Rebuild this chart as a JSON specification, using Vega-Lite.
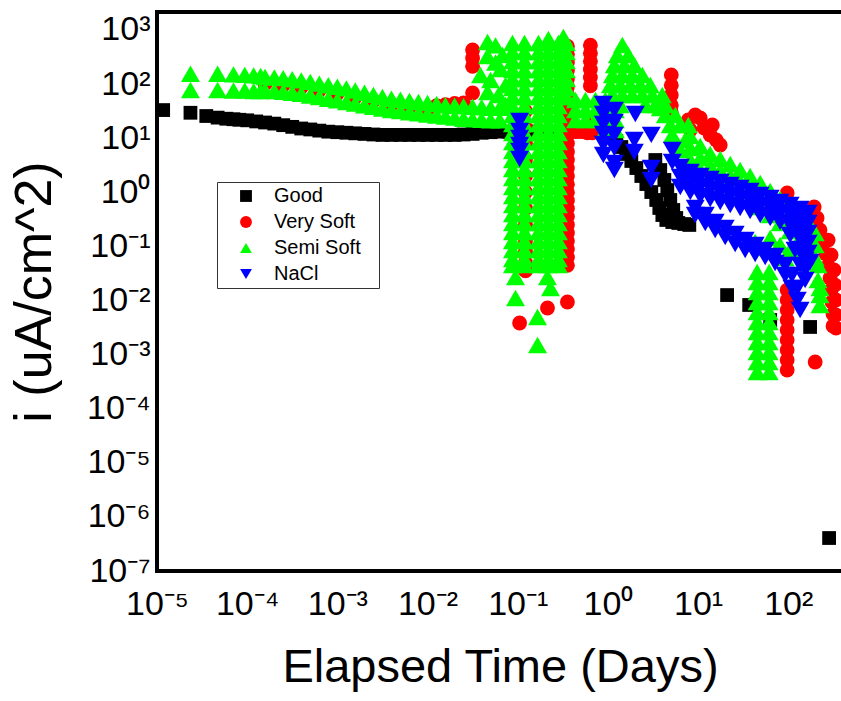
{
"$schema":"https://vega.github.io/schema/vega-lite/v6.json",
"width":686,"height":559,
"autosize":{"type":"none"},
"padding":{"left":157,"top":12,"right":0,"bottom":130},
"background":"white",
"config":{
 "view":{"stroke":"black","strokeWidth":4},
 "axis":{"domain":false,"grid":false,"tickColor":"black","labelColor":"black","titleColor":"black","labelFont":"Liberation Sans","titleFont":"Liberation Sans","labelFontSize":34,"titleFontWeight":"normal","labelOverlap":false,"labelFlush":false,"labelBound":false,"tickSize":0}
},
"data":{"values":[
{"sample":"Good","days":1.17e-5,"i":33.1},{"sample":"Good","days":2.35e-5,"i":29.5},{"sample":"Good","days":3.52e-5,"i":25.7},{"sample":"Good","days":4.7e-5,"i":24.0},{"sample":"Good","days":5.87e-5,"i":22.9},{"sample":"Good","days":7.04e-5,"i":22.4},{"sample":"Good","days":8.2e-5,"i":21.9},{"sample":"Good","days":1e-4,"i":21.4},{"sample":"Good","days":1.26e-4,"i":20.4},{"sample":"Good","days":1.58e-4,"i":19.5},{"sample":"Good","days":2e-4,"i":18.6},{"sample":"Good","days":2.51e-4,"i":17.4},{"sample":"Good","days":3.16e-4,"i":16.2},{"sample":"Good","days":3.98e-4,"i":15.1},{"sample":"Good","days":5.01e-4,"i":14.5},{"sample":"Good","days":6.31e-4,"i":13.8},{"sample":"Good","days":7.94e-4,"i":13.2},{"sample":"Good","days":1e-3,"i":12.9},{"sample":"Good","days":1.26e-3,"i":12.6},{"sample":"Good","days":1.58e-3,"i":12.3},{"sample":"Good","days":2e-3,"i":12.0},{"sample":"Good","days":2.51e-3,"i":11.7},{"sample":"Good","days":3.16e-3,"i":11.5},{"sample":"Good","days":3.98e-3,"i":11.5},{"sample":"Good","days":5.01e-3,"i":11.5},{"sample":"Good","days":6.31e-3,"i":11.5},{"sample":"Good","days":7.94e-3,"i":11.5},{"sample":"Good","days":0.01,"i":11.5},{"sample":"Good","days":0.0126,"i":11.5},{"sample":"Good","days":0.0158,"i":11.5},{"sample":"Good","days":0.02,"i":11.5},{"sample":"Good","days":0.0251,"i":11.7},{"sample":"Good","days":0.0316,"i":12.0},{"sample":"Good","days":0.0398,"i":12.6},{"sample":"Good","days":0.0501,"i":12.9},{"sample":"Good","days":0.0631,"i":13.2},{"sample":"Good","days":0.0794,"i":13.2},{"sample":"Good","days":0.1,"i":13.2},{"sample":"Good","days":0.126,"i":13.2},{"sample":"Good","days":0.158,"i":13.2},{"sample":"Good","days":0.2,"i":13.2},{"sample":"Good","days":0.251,"i":13.2},{"sample":"Good","days":0.316,"i":13.2},{"sample":"Good","days":0.38,"i":13.2},{"sample":"Good","days":1.07,"i":10.5},{"sample":"Good","days":1.24,"i":8.87},{"sample":"Good","days":1.41,"i":6.87},{"sample":"Good","days":1.6,"i":5.11},{"sample":"Good","days":1.82,"i":3.79},{"sample":"Good","days":2.07,"i":2.81},{"sample":"Good","days":2.35,"i":2.0},{"sample":"Good","days":2.67,"i":1.42},{"sample":"Good","days":3.03,"i":1.01},{"sample":"Good","days":3.44,"i":0.721},{"sample":"Good","days":3.72,"i":0.513},{"sample":"Good","days":4.02,"i":0.38},{"sample":"Good","days":4.45,"i":0.308},{"sample":"Good","days":5.18,"i":0.282},{"sample":"Good","days":6.04,"i":0.271},{"sample":"Good","days":7.03,"i":0.259},{"sample":"Good","days":8.0,"i":0.249},{"sample":"Good","days":3.36,"i":3.95},{"sample":"Good","days":3.81,"i":2.58},{"sample":"Good","days":4.23,"i":1.69},{"sample":"Good","days":4.56,"i":1.1},{"sample":"Good","days":4.92,"i":0.721},{"sample":"Good","days":5.31,"i":0.471},{"sample":"Good","days":5.73,"i":0.335},{"sample":"Good","days":21.0,"i":0.0126},{"sample":"Good","days":36.9,"i":0.00826},{"sample":"Good","days":63.1,"i":0.00436},{"sample":"Good","days":175,"i":0.00324},{"sample":"Good","days":284,"i":4.07e-7},
{"sample":"Very Soft","days":1.58e-4,"i":101},{"sample":"Very Soft","days":2.51e-4,"i":96.6},{"sample":"Very Soft","days":3.98e-4,"i":88.1},{"sample":"Very Soft","days":6.31e-4,"i":76.7},{"sample":"Very Soft","days":1e-3,"i":66.8},{"sample":"Very Soft","days":1.58e-3,"i":57.5},{"sample":"Very Soft","days":2.51e-3,"i":49.0},{"sample":"Very Soft","days":3.98e-3,"i":42.2},{"sample":"Very Soft","days":6.31e-3,"i":38.5},{"sample":"Very Soft","days":0.01,"i":35.1},{"sample":"Very Soft","days":0.0126,"i":39.8},{"sample":"Very Soft","days":0.0158,"i":41.7},{"sample":"Very Soft","days":0.02,"i":43.7},{"sample":"Very Soft","days":0.0251,"i":44.7},
{"sample":"Very Soft","days":0.0316,"i":68.4},{"sample":"Very Soft","days":0.0316,"i":214},{"sample":"Very Soft","days":0.0316,"i":302},{"sample":"Very Soft","days":0.0316,"i":427},
{"sample":"Very Soft","days":0.356,"i":501},{"sample":"Very Soft","days":0.356,"i":355},{"sample":"Very Soft","days":0.356,"i":251},{"sample":"Very Soft","days":0.356,"i":178},{"sample":"Very Soft","days":0.356,"i":126},{"sample":"Very Soft","days":0.356,"i":89.1},{"sample":"Very Soft","days":0.356,"i":63.1},{"sample":"Very Soft","days":0.356,"i":44.7},{"sample":"Very Soft","days":0.356,"i":31.6},{"sample":"Very Soft","days":0.356,"i":22.4},{"sample":"Very Soft","days":0.356,"i":15.8},{"sample":"Very Soft","days":0.356,"i":11.2},{"sample":"Very Soft","days":0.356,"i":7.94},{"sample":"Very Soft","days":0.356,"i":5.62},{"sample":"Very Soft","days":0.356,"i":3.98},{"sample":"Very Soft","days":0.356,"i":2.82},{"sample":"Very Soft","days":0.356,"i":2.0},{"sample":"Very Soft","days":0.356,"i":1.41},{"sample":"Very Soft","days":0.356,"i":1.0},{"sample":"Very Soft","days":0.356,"i":0.708},{"sample":"Very Soft","days":0.356,"i":0.501},{"sample":"Very Soft","days":0.356,"i":0.355},{"sample":"Very Soft","days":0.356,"i":0.251},{"sample":"Very Soft","days":0.356,"i":0.178},{"sample":"Very Soft","days":0.356,"i":0.126},{"sample":"Very Soft","days":0.356,"i":0.0891},{"sample":"Very Soft","days":0.356,"i":0.0631},{"sample":"Very Soft","days":0.356,"i":0.0447},
{"sample":"Very Soft","days":0.64,"i":525},{"sample":"Very Soft","days":0.64,"i":372},{"sample":"Very Soft","days":0.64,"i":263},{"sample":"Very Soft","days":0.64,"i":186},{"sample":"Very Soft","days":0.64,"i":132},{"sample":"Very Soft","days":0.64,"i":93.3},{"sample":"Very Soft","days":0.45,"i":13.2},{"sample":"Very Soft","days":0.52,"i":13.2},{"sample":"Very Soft","days":0.593,"i":17.8},{"sample":"Very Soft","days":0.593,"i":12.6},{"sample":"Very Soft","days":0.67,"i":12.6},
{"sample":"Very Soft","days":0.122,"i":31.6},{"sample":"Very Soft","days":0.122,"i":15.8},{"sample":"Very Soft","days":0.122,"i":7.94},{"sample":"Very Soft","days":0.122,"i":3.98},{"sample":"Very Soft","days":0.122,"i":2.0},{"sample":"Very Soft","days":0.122,"i":1.0},{"sample":"Very Soft","days":0.122,"i":0.501},{"sample":"Very Soft","days":0.122,"i":0.251},{"sample":"Very Soft","days":0.122,"i":0.126},{"sample":"Very Soft","days":0.122,"i":0.0794},{"sample":"Very Soft","days":0.122,"i":0.0501},{"sample":"Very Soft","days":0.122,"i":0.0355},
{"sample":"Very Soft","days":0.105,"i":0.00384},{"sample":"Very Soft","days":0.214,"i":0.00727},{"sample":"Very Soft","days":0.356,"i":0.00938},
{"sample":"Very Soft","days":5.05,"i":148},{"sample":"Very Soft","days":5.05,"i":95.5},{"sample":"Very Soft","days":5.05,"i":63.1},{"sample":"Very Soft","days":5.05,"i":40.7},{"sample":"Very Soft","days":5.05,"i":30.2},
{"sample":"Very Soft","days":7.8,"i":21.7},{"sample":"Very Soft","days":8.2,"i":14.2},{"sample":"Very Soft","days":9.31,"i":26.9},{"sample":"Very Soft","days":10.57,"i":23.6},{"sample":"Very Soft","days":11.7,"i":15.4},{"sample":"Very Soft","days":14.4,"i":17.5},{"sample":"Very Soft","days":13.65,"i":11.5},{"sample":"Very Soft","days":15.9,"i":9.27},{"sample":"Very Soft","days":17.62,"i":7.48},
{"sample":"Very Soft","days":97.3,"i":0.97},
{"sample":"Very Soft","days":194,"i":0.535},{"sample":"Very Soft","days":209,"i":0.335},{"sample":"Very Soft","days":225,"i":0.201},{"sample":"Very Soft","days":243,"i":0.121},{"sample":"Very Soft","days":263,"i":0.0723},{"sample":"Very Soft","days":277,"i":0.0434},{"sample":"Very Soft","days":291,"i":0.0261},{"sample":"Very Soft","days":299,"i":0.0156},{"sample":"Very Soft","days":306,"i":0.00938},{"sample":"Very Soft","days":314,"i":0.00562},{"sample":"Very Soft","days":314,"i":0.00338},
{"sample":"Very Soft","days":277,"i":0.131},{"sample":"Very Soft","days":299,"i":0.0693},{"sample":"Very Soft","days":322,"i":0.0366},{"sample":"Very Soft","days":330,"i":0.0193},{"sample":"Very Soft","days":339,"i":0.0102},{"sample":"Very Soft","days":339,"i":0.00539},{"sample":"Very Soft","days":339,"i":0.0031},
{"sample":"Very Soft","days":97.3,"i":0.0156},{"sample":"Very Soft","days":97.3,"i":0.0102},{"sample":"Very Soft","days":97.3,"i":0.00667},{"sample":"Very Soft","days":97.3,"i":0.00436},{"sample":"Very Soft","days":97.3,"i":0.00285},{"sample":"Very Soft","days":97.3,"i":0.00186},{"sample":"Very Soft","days":97.3,"i":0.00122},{"sample":"Very Soft","days":97.3,"i":0.000794},{"sample":"Very Soft","days":97.3,"i":0.000519},{"sample":"Very Soft","days":199,"i":0.00073},
{"sample":"Semi Soft","days":2.35e-5,"i":155},{"sample":"Semi Soft","days":2.35e-5,"i":77.6},{"sample":"Semi Soft","days":4.7e-5,"i":155},{"sample":"Semi Soft","days":4.7e-5,"i":77.6},{"sample":"Semi Soft","days":7.05e-5,"i":151},{"sample":"Semi Soft","days":7.05e-5,"i":75.9},{"sample":"Semi Soft","days":9.4e-5,"i":148},{"sample":"Semi Soft","days":9.4e-5,"i":75.9},{"sample":"Semi Soft","days":1.18e-4,"i":145},{"sample":"Semi Soft","days":1.18e-4,"i":74.1},{"sample":"Semi Soft","days":1.41e-4,"i":141},{"sample":"Semi Soft","days":1.41e-4,"i":74.1},
{"sample":"Semi Soft","days":1.58e-4,"i":135},{"sample":"Semi Soft","days":1.58e-4,"i":75.9},{"sample":"Semi Soft","days":2e-4,"i":132},{"sample":"Semi Soft","days":2e-4,"i":74.1},{"sample":"Semi Soft","days":2.51e-4,"i":129},{"sample":"Semi Soft","days":2.51e-4,"i":72.4},{"sample":"Semi Soft","days":3.16e-4,"i":123},{"sample":"Semi Soft","days":3.16e-4,"i":69.2},{"sample":"Semi Soft","days":3.98e-4,"i":117},{"sample":"Semi Soft","days":3.98e-4,"i":66.1},{"sample":"Semi Soft","days":5.01e-4,"i":110},{"sample":"Semi Soft","days":5.01e-4,"i":61.7},{"sample":"Semi Soft","days":6.31e-4,"i":102},{"sample":"Semi Soft","days":6.31e-4,"i":57.5},{"sample":"Semi Soft","days":7.94e-4,"i":95.5},{"sample":"Semi Soft","days":7.94e-4,"i":53.7},{"sample":"Semi Soft","days":1e-3,"i":89.1},{"sample":"Semi Soft","days":1e-3,"i":50.1},{"sample":"Semi Soft","days":1.26e-3,"i":83.2},{"sample":"Semi Soft","days":1.26e-3,"i":46.8},{"sample":"Semi Soft","days":1.58e-3,"i":75.9},{"sample":"Semi Soft","days":1.58e-3,"i":43.7},{"sample":"Semi Soft","days":2e-3,"i":69.2},{"sample":"Semi Soft","days":2e-3,"i":40.7},{"sample":"Semi Soft","days":2.51e-3,"i":63.1},{"sample":"Semi Soft","days":2.51e-3,"i":38.0},{"sample":"Semi Soft","days":3.16e-3,"i":57.5},{"sample":"Semi Soft","days":3.16e-3,"i":35.5},{"sample":"Semi Soft","days":3.98e-3,"i":53.7},{"sample":"Semi Soft","days":3.98e-3,"i":33.1},{"sample":"Semi Soft","days":5.01e-3,"i":51.3},{"sample":"Semi Soft","days":5.01e-3,"i":31.6},{"sample":"Semi Soft","days":6.31e-3,"i":49.0},{"sample":"Semi Soft","days":6.31e-3,"i":30.2},{"sample":"Semi Soft","days":7.94e-3,"i":46.8},{"sample":"Semi Soft","days":7.94e-3,"i":28.8},{"sample":"Semi Soft","days":0.01,"i":44.7},{"sample":"Semi Soft","days":0.01,"i":27.5},{"sample":"Semi Soft","days":0.0126,"i":42.7},{"sample":"Semi Soft","days":0.0126,"i":26.3},{"sample":"Semi Soft","days":0.0158,"i":40.7},{"sample":"Semi Soft","days":0.0158,"i":25.1},{"sample":"Semi Soft","days":0.02,"i":39.8},{"sample":"Semi Soft","days":0.02,"i":24.0},{"sample":"Semi Soft","days":0.0251,"i":38.9},{"sample":"Semi Soft","days":0.0251,"i":22.9},{"sample":"Semi Soft","days":0.0316,"i":38.0},{"sample":"Semi Soft","days":0.0316,"i":22.4},{"sample":"Semi Soft","days":0.0398,"i":37.2},{"sample":"Semi Soft","days":0.0398,"i":21.9},{"sample":"Semi Soft","days":0.0501,"i":36.3},{"sample":"Semi Soft","days":0.0501,"i":21.4},{"sample":"Semi Soft","days":0.0631,"i":36.3},{"sample":"Semi Soft","days":0.0631,"i":21.4},
{"sample":"Semi Soft","days":0.0463,"i":600},{"sample":"Semi Soft","days":0.0463,"i":330},{"sample":"Semi Soft","days":0.0568,"i":520},{"sample":"Semi Soft","days":0.0679,"i":345},{"sample":"Semi Soft","days":0.0646,"i":190},{"sample":"Semi Soft","days":0.0463,"i":71.5},{"sample":"Semi Soft","days":0.0733,"i":96.2},{"sample":"Semi Soft","days":0.0568,"i":250},{"sample":"Semi Soft","days":0.0387,"i":147},{"sample":"Semi Soft","days":0.05,"i":119},{"sample":"Semi Soft","days":0.0612,"i":62.9},{"sample":"Semi Soft","days":0.0733,"i":41.1},
{"sample":"Semi Soft","days":0.0875,"i":575},{"sample":"Semi Soft","days":0.0875,"i":392},{"sample":"Semi Soft","days":0.0875,"i":267},{"sample":"Semi Soft","days":0.0875,"i":182},{"sample":"Semi Soft","days":0.0875,"i":124},{"sample":"Semi Soft","days":0.0875,"i":84.7},{"sample":"Semi Soft","days":0.0875,"i":57.8},{"sample":"Semi Soft","days":0.0875,"i":39.4},{"sample":"Semi Soft","days":0.0875,"i":26.9},{"sample":"Semi Soft","days":0.0875,"i":18.3},{"sample":"Semi Soft","days":0.0875,"i":12.5},{"sample":"Semi Soft","days":0.0875,"i":8.51},{"sample":"Semi Soft","days":0.0875,"i":5.8},{"sample":"Semi Soft","days":0.0875,"i":3.95},{"sample":"Semi Soft","days":0.0875,"i":2.7},{"sample":"Semi Soft","days":0.0875,"i":1.84},{"sample":"Semi Soft","days":0.0875,"i":1.25},{"sample":"Semi Soft","days":0.0875,"i":0.855},{"sample":"Semi Soft","days":0.0875,"i":0.582},{"sample":"Semi Soft","days":0.0875,"i":0.397},{"sample":"Semi Soft","days":0.0875,"i":0.271},{"sample":"Semi Soft","days":0.0875,"i":0.185},{"sample":"Semi Soft","days":0.0875,"i":0.126},{"sample":"Semi Soft","days":0.0875,"i":0.0858},{"sample":"Semi Soft","days":0.0875,"i":0.0585},{"sample":"Semi Soft","days":0.0875,"i":0.0453},
{"sample":"Semi Soft","days":0.119,"i":575},{"sample":"Semi Soft","days":0.119,"i":392},{"sample":"Semi Soft","days":0.119,"i":267},{"sample":"Semi Soft","days":0.119,"i":182},{"sample":"Semi Soft","days":0.119,"i":124},{"sample":"Semi Soft","days":0.119,"i":84.7},{"sample":"Semi Soft","days":0.119,"i":57.8},{"sample":"Semi Soft","days":0.119,"i":39.4},{"sample":"Semi Soft","days":0.119,"i":26.9},{"sample":"Semi Soft","days":0.119,"i":18.3},{"sample":"Semi Soft","days":0.119,"i":12.5},{"sample":"Semi Soft","days":0.119,"i":8.51},{"sample":"Semi Soft","days":0.119,"i":5.8},{"sample":"Semi Soft","days":0.119,"i":3.95},{"sample":"Semi Soft","days":0.119,"i":2.7},{"sample":"Semi Soft","days":0.119,"i":1.84},{"sample":"Semi Soft","days":0.119,"i":1.25},{"sample":"Semi Soft","days":0.119,"i":0.855},{"sample":"Semi Soft","days":0.119,"i":0.582},{"sample":"Semi Soft","days":0.119,"i":0.397},{"sample":"Semi Soft","days":0.119,"i":0.271},{"sample":"Semi Soft","days":0.119,"i":0.185},{"sample":"Semi Soft","days":0.119,"i":0.126},{"sample":"Semi Soft","days":0.119,"i":0.0858},{"sample":"Semi Soft","days":0.119,"i":0.0585},{"sample":"Semi Soft","days":0.119,"i":0.0453},
{"sample":"Semi Soft","days":0.17,"i":575},{"sample":"Semi Soft","days":0.17,"i":392},{"sample":"Semi Soft","days":0.17,"i":267},{"sample":"Semi Soft","days":0.17,"i":182},{"sample":"Semi Soft","days":0.17,"i":124},{"sample":"Semi Soft","days":0.17,"i":84.7},{"sample":"Semi Soft","days":0.17,"i":57.8},{"sample":"Semi Soft","days":0.17,"i":39.4},{"sample":"Semi Soft","days":0.17,"i":26.9},{"sample":"Semi Soft","days":0.17,"i":18.3},{"sample":"Semi Soft","days":0.17,"i":12.5},{"sample":"Semi Soft","days":0.17,"i":8.51},{"sample":"Semi Soft","days":0.17,"i":5.8},{"sample":"Semi Soft","days":0.17,"i":3.95},{"sample":"Semi Soft","days":0.17,"i":2.7},{"sample":"Semi Soft","days":0.17,"i":1.84},{"sample":"Semi Soft","days":0.17,"i":1.25},{"sample":"Semi Soft","days":0.17,"i":0.855},{"sample":"Semi Soft","days":0.17,"i":0.582},{"sample":"Semi Soft","days":0.17,"i":0.397},{"sample":"Semi Soft","days":0.17,"i":0.271},{"sample":"Semi Soft","days":0.17,"i":0.185},{"sample":"Semi Soft","days":0.17,"i":0.126},{"sample":"Semi Soft","days":0.17,"i":0.0858},{"sample":"Semi Soft","days":0.17,"i":0.0585},{"sample":"Semi Soft","days":0.17,"i":0.0453},
{"sample":"Semi Soft","days":0.219,"i":680},{"sample":"Semi Soft","days":0.219,"i":575},{"sample":"Semi Soft","days":0.219,"i":392},{"sample":"Semi Soft","days":0.219,"i":267},{"sample":"Semi Soft","days":0.219,"i":182},{"sample":"Semi Soft","days":0.219,"i":124},{"sample":"Semi Soft","days":0.219,"i":84.7},{"sample":"Semi Soft","days":0.219,"i":57.8},{"sample":"Semi Soft","days":0.219,"i":39.4},{"sample":"Semi Soft","days":0.219,"i":26.9},{"sample":"Semi Soft","days":0.219,"i":18.3},{"sample":"Semi Soft","days":0.219,"i":12.5},{"sample":"Semi Soft","days":0.219,"i":8.51},{"sample":"Semi Soft","days":0.219,"i":5.8},{"sample":"Semi Soft","days":0.219,"i":3.95},{"sample":"Semi Soft","days":0.219,"i":2.7},{"sample":"Semi Soft","days":0.219,"i":1.84},{"sample":"Semi Soft","days":0.219,"i":1.25},{"sample":"Semi Soft","days":0.219,"i":0.855},{"sample":"Semi Soft","days":0.219,"i":0.582},{"sample":"Semi Soft","days":0.219,"i":0.397},{"sample":"Semi Soft","days":0.219,"i":0.271},{"sample":"Semi Soft","days":0.219,"i":0.185},{"sample":"Semi Soft","days":0.219,"i":0.126},{"sample":"Semi Soft","days":0.219,"i":0.0858},{"sample":"Semi Soft","days":0.219,"i":0.0585},{"sample":"Semi Soft","days":0.219,"i":0.0453},
{"sample":"Semi Soft","days":0.283,"i":575},{"sample":"Semi Soft","days":0.283,"i":392},{"sample":"Semi Soft","days":0.283,"i":267},{"sample":"Semi Soft","days":0.283,"i":182},{"sample":"Semi Soft","days":0.283,"i":124},{"sample":"Semi Soft","days":0.283,"i":84.7},{"sample":"Semi Soft","days":0.283,"i":57.8},{"sample":"Semi Soft","days":0.283,"i":39.4},{"sample":"Semi Soft","days":0.283,"i":26.9},{"sample":"Semi Soft","days":0.283,"i":18.3},{"sample":"Semi Soft","days":0.283,"i":12.5},{"sample":"Semi Soft","days":0.283,"i":8.51},{"sample":"Semi Soft","days":0.283,"i":5.8},{"sample":"Semi Soft","days":0.283,"i":3.95},{"sample":"Semi Soft","days":0.283,"i":2.7},{"sample":"Semi Soft","days":0.283,"i":1.84},{"sample":"Semi Soft","days":0.283,"i":1.25},{"sample":"Semi Soft","days":0.283,"i":0.855},{"sample":"Semi Soft","days":0.283,"i":0.582},{"sample":"Semi Soft","days":0.283,"i":0.397},{"sample":"Semi Soft","days":0.283,"i":0.271},{"sample":"Semi Soft","days":0.283,"i":0.185},{"sample":"Semi Soft","days":0.283,"i":0.126},{"sample":"Semi Soft","days":0.283,"i":0.0858},{"sample":"Semi Soft","days":0.283,"i":0.0585},{"sample":"Semi Soft","days":0.283,"i":0.0453},
{"sample":"Semi Soft","days":0.321,"i":740},{"sample":"Semi Soft","days":0.347,"i":575},{"sample":"Semi Soft","days":0.347,"i":392},{"sample":"Semi Soft","days":0.347,"i":267},{"sample":"Semi Soft","days":0.347,"i":182},{"sample":"Semi Soft","days":0.347,"i":124},{"sample":"Semi Soft","days":0.347,"i":84.7},{"sample":"Semi Soft","days":0.347,"i":57.8},
{"sample":"Semi Soft","days":0.0946,"i":0.0272},{"sample":"Semi Soft","days":0.0946,"i":0.0111},{"sample":"Semi Soft","days":0.214,"i":0.0272},{"sample":"Semi Soft","days":0.231,"i":0.017},{"sample":"Semi Soft","days":0.166,"i":0.00495},{"sample":"Semi Soft","days":0.166,"i":0.0015},
{"sample":"Semi Soft","days":0.437,"i":50.8},{"sample":"Semi Soft","days":0.437,"i":33.2},{"sample":"Semi Soft","days":0.437,"i":21.7},{"sample":"Semi Soft","days":0.564,"i":50.8},{"sample":"Semi Soft","days":0.564,"i":33.2},{"sample":"Semi Soft","days":0.564,"i":21.7},{"sample":"Semi Soft","days":0.728,"i":50.8},{"sample":"Semi Soft","days":0.728,"i":33.2},{"sample":"Semi Soft","days":0.728,"i":21.7},{"sample":"Semi Soft","days":0.937,"i":50.8},{"sample":"Semi Soft","days":0.937,"i":33.2},{"sample":"Semi Soft","days":0.937,"i":21.7},{"sample":"Semi Soft","days":0.937,"i":14.2},{"sample":"Semi Soft","days":1.211,"i":50.8},{"sample":"Semi Soft","days":1.211,"i":33.2},{"sample":"Semi Soft","days":1.211,"i":21.7},{"sample":"Semi Soft","days":1.211,"i":14.2},
{"sample":"Semi Soft","days":1.448,"i":528},{"sample":"Semi Soft","days":1.274,"i":345},{"sample":"Semi Soft","days":1.687,"i":345},{"sample":"Semi Soft","days":1.18,"i":225},{"sample":"Semi Soft","days":1.524,"i":225},{"sample":"Semi Soft","days":1.965,"i":225},{"sample":"Semi Soft","days":1.122,"i":147},{"sample":"Semi Soft","days":1.448,"i":147},{"sample":"Semi Soft","days":1.868,"i":147},{"sample":"Semi Soft","days":2.41,"i":147},{"sample":"Semi Soft","days":1.066,"i":96.2},{"sample":"Semi Soft","days":1.375,"i":96.2},{"sample":"Semi Soft","days":1.776,"i":96.2},{"sample":"Semi Soft","days":2.291,"i":96.2},{"sample":"Semi Soft","days":2.957,"i":96.2},{"sample":"Semi Soft","days":1.122,"i":62.9},{"sample":"Semi Soft","days":1.448,"i":62.9},{"sample":"Semi Soft","days":1.868,"i":62.9},{"sample":"Semi Soft","days":2.41,"i":62.9},{"sample":"Semi Soft","days":3.112,"i":62.9},{"sample":"Semi Soft","days":4.02,"i":62.9},{"sample":"Semi Soft","days":1.375,"i":41.1},{"sample":"Semi Soft","days":2.602,"i":41.1},{"sample":"Semi Soft","days":3.357,"i":41.1},{"sample":"Semi Soft","days":4.335,"i":41.1},{"sample":"Semi Soft","days":3.811,"i":36.1},{"sample":"Semi Soft","days":4.335,"i":26.9},{"sample":"Semi Soft","days":5.597,"i":26.9},{"sample":"Semi Soft","days":4.92,"i":17.5},{"sample":"Semi Soft","days":6.353,"i":17.5},{"sample":"Semi Soft","days":7.8,"i":17.5},{"sample":"Semi Soft","days":5.18,"i":11.5},{"sample":"Semi Soft","days":6.353,"i":6.05},{"sample":"Semi Soft","days":7.211,"i":9.27},
{"sample":"Semi Soft","days":8.2,"i":11.0},{"sample":"Semi Soft","days":8.2,"i":6.59},{"sample":"Semi Soft","days":8.2,"i":3.95},{"sample":"Semi Soft","days":10.57,"i":7.17},{"sample":"Semi Soft","days":10.57,"i":4.31},{"sample":"Semi Soft","days":10.57,"i":2.58},{"sample":"Semi Soft","days":13.65,"i":5.11},{"sample":"Semi Soft","days":13.65,"i":3.06},{"sample":"Semi Soft","days":13.65,"i":1.84},{"sample":"Semi Soft","days":17.62,"i":4.13},{"sample":"Semi Soft","days":17.62,"i":2.48},{"sample":"Semi Soft","days":17.62,"i":1.49},{"sample":"Semi Soft","days":22.75,"i":3.34},{"sample":"Semi Soft","days":22.75,"i":2.0},{"sample":"Semi Soft","days":22.75,"i":1.2},{"sample":"Semi Soft","days":29.3,"i":2.58},{"sample":"Semi Soft","days":29.3,"i":1.55},{"sample":"Semi Soft","days":29.3,"i":0.931},{"sample":"Semi Soft","days":37.8,"i":2.0},{"sample":"Semi Soft","days":37.8,"i":1.2},{"sample":"Semi Soft","days":37.8,"i":0.721},{"sample":"Semi Soft","days":48.9,"i":1.49},{"sample":"Semi Soft","days":48.9,"i":0.891},{"sample":"Semi Soft","days":48.9,"i":0.535},{"sample":"Semi Soft","days":63.1,"i":1.06},{"sample":"Semi Soft","days":63.1,"i":0.634},{"sample":"Semi Soft","days":63.1,"i":0.38},{"sample":"Semi Soft","days":81.3,"i":0.752},{"sample":"Semi Soft","days":81.3,"i":0.451},{"sample":"Semi Soft","days":81.3,"i":0.271},{"sample":"Semi Soft","days":105,"i":0.535},{"sample":"Semi Soft","days":105,"i":0.321},{"sample":"Semi Soft","days":105,"i":0.193},{"sample":"Semi Soft","days":135.5,"i":0.397},{"sample":"Semi Soft","days":135.5,"i":0.238},{"sample":"Semi Soft","days":135.5,"i":0.143},{"sample":"Semi Soft","days":166,"i":0.282},{"sample":"Semi Soft","days":166,"i":0.169},{"sample":"Semi Soft","days":166,"i":0.102},{"sample":"Semi Soft","days":199,"i":0.177},{"sample":"Semi Soft","days":199,"i":0.106},{"sample":"Semi Soft","days":199,"i":0.061},{"sample":"Semi Soft","days":214,"i":0.0453},{"sample":"Semi Soft","days":214,"i":0.0239},{"sample":"Semi Soft","days":225,"i":0.017},{"sample":"Semi Soft","days":225,"i":0.0126},{"sample":"Semi Soft","days":225,"i":0.00826},
{"sample":"Semi Soft","days":45.2,"i":0.0336},{"sample":"Semi Soft","days":45.2,"i":0.022},{"sample":"Semi Soft","days":45.2,"i":0.0143},{"sample":"Semi Soft","days":45.2,"i":0.00938},{"sample":"Semi Soft","days":45.2,"i":0.00612},{"sample":"Semi Soft","days":45.2,"i":0.004},{"sample":"Semi Soft","days":45.2,"i":0.00262},{"sample":"Semi Soft","days":45.2,"i":0.00171},{"sample":"Semi Soft","days":45.2,"i":0.00112},{"sample":"Semi Soft","days":45.2,"i":0.00073},{"sample":"Semi Soft","days":45.2,"i":0.000476},
{"sample":"Semi Soft","days":61.5,"i":0.0336},{"sample":"Semi Soft","days":61.5,"i":0.022},{"sample":"Semi Soft","days":61.5,"i":0.0143},{"sample":"Semi Soft","days":61.5,"i":0.00938},{"sample":"Semi Soft","days":61.5,"i":0.00612},{"sample":"Semi Soft","days":61.5,"i":0.004},{"sample":"Semi Soft","days":61.5,"i":0.00262},{"sample":"Semi Soft","days":61.5,"i":0.00171},{"sample":"Semi Soft","days":61.5,"i":0.00112},{"sample":"Semi Soft","days":61.5,"i":0.00073},{"sample":"Semi Soft","days":61.5,"i":0.000476},
{"sample":"Semi Soft","days":43.0,"i":0.121},{"sample":"Semi Soft","days":55.5,"i":0.0934},{"sample":"Semi Soft","days":71.6,"i":0.0787},{"sample":"Semi Soft","days":92.5,"i":0.061},{"sample":"Semi Soft","days":63.1,"i":0.143},{"sample":"Semi Soft","days":81.3,"i":0.106},{"sample":"Semi Soft","days":105,"i":0.0858},
{"sample":"NaCl","days":0.105,"i":20.8},{"sample":"NaCl","days":0.105,"i":13.6},{"sample":"NaCl","days":0.105,"i":10.1},{"sample":"NaCl","days":0.105,"i":7.48},{"sample":"NaCl","days":0.105,"i":5.8},{"sample":"NaCl","days":0.105,"i":4.13},
{"sample":"NaCl","days":0.891,"i":42.9},{"sample":"NaCl","days":0.891,"i":28.0},{"sample":"NaCl","days":0.891,"i":18.3},{"sample":"NaCl","days":0.891,"i":12.0},{"sample":"NaCl","days":0.891,"i":7.81},{"sample":"NaCl","days":0.891,"i":4.89},
{"sample":"NaCl","days":1.18,"i":33.2},{"sample":"NaCl","days":1.18,"i":19.9},{"sample":"NaCl","days":1.18,"i":11.5},{"sample":"NaCl","days":1.18,"i":6.59},{"sample":"NaCl","days":1.18,"i":3.48},{"sample":"NaCl","days":1.18,"i":2.58},
{"sample":"NaCl","days":2.017,"i":28.0},{"sample":"NaCl","days":3.03,"i":11.5},{"sample":"NaCl","days":1.965,"i":9.27},{"sample":"NaCl","days":1.965,"i":5.56},{"sample":"NaCl","days":3.03,"i":2.81},{"sample":"NaCl","days":3.03,"i":1.69},{"sample":"NaCl","days":5.18,"i":6.05},{"sample":"NaCl","days":5.18,"i":3.63},
{"sample":"NaCl","days":6.353,"i":2.94},{"sample":"NaCl","days":6.353,"i":1.92},{"sample":"NaCl","days":6.353,"i":1.25},{"sample":"NaCl","days":8.2,"i":2.37},{"sample":"NaCl","days":8.2,"i":1.55},{"sample":"NaCl","days":8.2,"i":1.01},{"sample":"NaCl","days":10.57,"i":2.0},{"sample":"NaCl","days":10.57,"i":1.31},{"sample":"NaCl","days":10.57,"i":0.855},{"sample":"NaCl","days":13.65,"i":1.76},{"sample":"NaCl","days":13.65,"i":1.15},{"sample":"NaCl","days":13.65,"i":0.752},{"sample":"NaCl","days":17.62,"i":1.55},{"sample":"NaCl","days":17.62,"i":1.01},{"sample":"NaCl","days":17.62,"i":0.662},{"sample":"NaCl","days":22.75,"i":1.36},{"sample":"NaCl","days":22.75,"i":0.891},{"sample":"NaCl","days":22.75,"i":0.582},{"sample":"NaCl","days":29.3,"i":1.2},{"sample":"NaCl","days":29.3,"i":0.785},{"sample":"NaCl","days":29.3,"i":0.513},{"sample":"NaCl","days":37.8,"i":1.06},{"sample":"NaCl","days":37.8,"i":0.691},{"sample":"NaCl","days":37.8,"i":0.451},{"sample":"NaCl","days":48.9,"i":0.891},{"sample":"NaCl","days":48.9,"i":0.582},{"sample":"NaCl","days":48.9,"i":0.38},{"sample":"NaCl","days":63.1,"i":0.785},{"sample":"NaCl","days":63.1,"i":0.513},{"sample":"NaCl","days":63.1,"i":0.335},{"sample":"NaCl","days":81.3,"i":0.662},{"sample":"NaCl","days":81.3,"i":0.432},{"sample":"NaCl","days":81.3,"i":0.282},{"sample":"NaCl","days":105,"i":0.582},{"sample":"NaCl","days":105,"i":0.38},{"sample":"NaCl","days":105,"i":0.249},{"sample":"NaCl","days":105,"i":0.163},{"sample":"NaCl","days":135.5,"i":0.491},{"sample":"NaCl","days":135.5,"i":0.321},{"sample":"NaCl","days":135.5,"i":0.21},{"sample":"NaCl","days":135.5,"i":0.137},{"sample":"NaCl","days":135.5,"i":0.0895},{"sample":"NaCl","days":166,"i":0.414},{"sample":"NaCl","days":166,"i":0.271},{"sample":"NaCl","days":166,"i":0.177},{"sample":"NaCl","days":166,"i":0.116},{"sample":"NaCl","days":166,"i":0.0755},
{"sample":"NaCl","days":9.31,"i":0.513},{"sample":"NaCl","days":9.31,"i":0.38},{"sample":"NaCl","days":12.02,"i":0.38},{"sample":"NaCl","days":12.02,"i":0.271},{"sample":"NaCl","days":15.49,"i":0.282},{"sample":"NaCl","days":15.49,"i":0.201},{"sample":"NaCl","days":20.0,"i":0.219},{"sample":"NaCl","days":20.0,"i":0.149},{"sample":"NaCl","days":25.8,"i":0.169},{"sample":"NaCl","days":25.8,"i":0.111},{"sample":"NaCl","days":33.3,"i":0.131},{"sample":"NaCl","days":33.3,"i":0.0858},{"sample":"NaCl","days":43.0,"i":0.106},{"sample":"NaCl","days":43.0,"i":0.0723},{"sample":"NaCl","days":55.5,"i":0.0858},{"sample":"NaCl","days":55.5,"i":0.0636},{"sample":"NaCl","days":71.6,"i":0.0664},{"sample":"NaCl","days":71.6,"i":0.0494},{"sample":"NaCl","days":92.5,"i":0.0453},{"sample":"NaCl","days":92.5,"i":0.0296},{"sample":"NaCl","days":110,"i":0.0296},{"sample":"NaCl","days":110,"i":0.017},{"sample":"NaCl","days":126,"i":0.017},{"sample":"NaCl","days":126,"i":0.0102},{"sample":"NaCl","days":135.5,"i":0.00667},
{"sample":"NaCl","days":119,"i":0.0858},{"sample":"NaCl","days":154,"i":0.0561},{"sample":"NaCl","days":154,"i":0.0366},{"sample":"NaCl","days":175,"i":0.0515},{"sample":"NaCl","days":135.5,"i":0.0453},{"sample":"NaCl","days":154,"i":0.0239}
]},
"layer":[
{
 "encoding":{
  "x":{"field":"days","type":"quantitative","scale":{"type":"log","domain":[1e-5,405],"nice":false},
   "axis":{"orient":"bottom","title":"Elapsed Time (Days)","titleFontSize":47,"titleY":110,"titleBaseline":"alphabetic","labelPadding":16,
    "values":[1e-5,2e-5,3e-5,4e-5,5e-5,6e-5,7e-5,8e-5,9e-5,1e-4,2e-4,3e-4,4e-4,5e-4,6e-4,7e-4,8e-4,9e-4,0.001,0.002,0.003,0.004,0.005,0.006,0.007,0.008,0.009,0.01,0.02,0.03,0.04,0.05,0.06,0.07,0.08,0.09,0.1,0.2,0.3,0.4,0.5,0.6,0.7,0.8,0.9,1,2,3,4,5,6,7,8,9,10,20,30,40,50,60,70,80,90,100,200,300,400],
    "labelExpr":"abs(log(datum.value)/LN10 - round(log(datum.value)/LN10)) < 0.001 ? '10' + (round(log(datum.value)/LN10) < 0 ? '⁻' : '') + substring('⁰¹²³⁴⁵⁶⁷⁸⁹', abs(round(log(datum.value)/LN10)), abs(round(log(datum.value)/LN10)) + 1) : ''",
    "encode":{"ticks":{"update":{"y2":{"signal":"abs(log(datum.value)/LN10 - round(log(datum.value)/LN10)) < 0.001 ? -11 : -6"},"strokeWidth":{"signal":"abs(log(datum.value)/LN10 - round(log(datum.value)/LN10)) < 0.001 ? 3 : 2"}}}}}},
  "y":{"field":"i","type":"quantitative","scale":{"type":"log","domain":[1e-7,2150],"nice":false},
   "axis":{"orient":"left","title":"i (uA/cm^2)","titleFontSize":52,"titleX":-107,"titleBaseline":"alphabetic","labelPadding":7,"labelAlign":"right","labelBaseline":"middle",
    "values":[1e-7,2e-7,3e-7,4e-7,5e-7,6e-7,7e-7,8e-7,9e-7,1e-6,2e-6,3e-6,4e-6,5e-6,6e-6,7e-6,8e-6,9e-6,1e-5,2e-5,3e-5,4e-5,5e-5,6e-5,7e-5,8e-5,9e-5,1e-4,2e-4,3e-4,4e-4,5e-4,6e-4,7e-4,8e-4,9e-4,0.001,0.002,0.003,0.004,0.005,0.006,0.007,0.008,0.009,0.01,0.02,0.03,0.04,0.05,0.06,0.07,0.08,0.09,0.1,0.2,0.3,0.4,0.5,0.6,0.7,0.8,0.9,1,2,3,4,5,6,7,8,9,10,20,30,40,50,60,70,80,90,100,200,300,400,500,600,700,800,900,1000,2000],
    "labelExpr":"abs(log(datum.value)/LN10 - round(log(datum.value)/LN10)) < 0.001 ? '10' + (round(log(datum.value)/LN10) < 0 ? '⁻' : '') + substring('⁰¹²³⁴⁵⁶⁷⁸⁹', abs(round(log(datum.value)/LN10)), abs(round(log(datum.value)/LN10)) + 1) : ''",
    "encode":{"ticks":{"update":{"x2":{"signal":"abs(log(datum.value)/LN10 - round(log(datum.value)/LN10)) < 0.001 ? 11 : 6"},"strokeWidth":{"signal":"abs(log(datum.value)/LN10 - round(log(datum.value)/LN10)) < 0.001 ? 3 : 2"}}}}}},
  "color":{"field":"sample","type":"nominal","scale":{"domain":["Good","Very Soft","Semi Soft","NaCl"],"range":["#000000","#ff0000","#00ff00","#0000ff"]},
   "legend":{"title":"\u00a0","titleOrient":"right","titlePadding":14,"titleFontSize":20,"orient":"none","legendX":60,"legendY":170,"padding":4,"strokeColor":"#333333","fillColor":"white","symbolOffset":15,"labelOffset":18,"labelFontSize":20,"labelFont":"Liberation Sans","labelColor":"black","rowPadding":6,"symbolSize":140,"symbolStrokeWidth":0}},
  "shape":{"field":"sample","type":"nominal","scale":{"domain":["Good","Very Soft","Semi Soft","NaCl"],"range":["square","circle","triangle-up","triangle-down"]},
   "legend":{"title":"\u00a0","titleOrient":"right","titlePadding":14,"titleFontSize":20,"orient":"none","legendX":60,"legendY":170,"padding":4,"strokeColor":"#333333","fillColor":"white","symbolOffset":15,"labelOffset":18,"labelFontSize":20,"labelFont":"Liberation Sans","labelColor":"black","rowPadding":6,"symbolSize":140,"symbolStrokeWidth":0}}
 },
 "layer":[
  {"transform":[{"filter":"datum.sample == 'Good'"}],"mark":{"type":"point","filled":true,"opacity":1,"strokeWidth":0,"size":190}},
  {"transform":[{"filter":"datum.sample == 'Very Soft'"}],"mark":{"type":"point","filled":true,"opacity":1,"strokeWidth":0,"size":220}},
  {"transform":[{"filter":"datum.sample == 'Semi Soft'"}],"mark":{"type":"point","filled":true,"opacity":1,"strokeWidth":0,"size":360}},
  {"transform":[{"filter":"datum.sample == 'NaCl'"}],"mark":{"type":"point","filled":true,"opacity":1,"strokeWidth":0,"size":360}}
 ]
},
{
 "transform":[{"filter":"datum.days > 150"}],
 "mark":{"type":"point","opacity":0},
 "encoding":{
  "x":{"field":"days","type":"quantitative","axis":{"orient":"top","title":null,"labels":false,
    "values":[1e-5,2e-5,3e-5,4e-5,5e-5,6e-5,7e-5,8e-5,9e-5,1e-4,2e-4,3e-4,4e-4,5e-4,6e-4,7e-4,8e-4,9e-4,0.001,0.002,0.003,0.004,0.005,0.006,0.007,0.008,0.009,0.01,0.02,0.03,0.04,0.05,0.06,0.07,0.08,0.09,0.1,0.2,0.3,0.4,0.5,0.6,0.7,0.8,0.9,1,2,3,4,5,6,7,8,9,10,20,30,40,50,60,70,80,90,100,200,300,400],
    "encode":{"ticks":{"update":{"y2":{"signal":"abs(log(datum.value)/LN10 - round(log(datum.value)/LN10)) < 0.001 ? 11 : 6"},"strokeWidth":{"signal":"abs(log(datum.value)/LN10 - round(log(datum.value)/LN10)) < 0.001 ? 3 : 2"}}}}}},
  "y":{"field":"i","type":"quantitative","axis":{"orient":"right","title":null,"labels":false,
    "values":[1e-7,1e-6,1e-5,1e-4,0.001,0.01,0.1,1,10,100,1000],
    "encode":{"ticks":{"update":{"x2":{"value":-7},"strokeWidth":{"value":3}}}}}}
 }
}
],
"resolve":{"axis":{"x":"independent","y":"independent"}}
}
